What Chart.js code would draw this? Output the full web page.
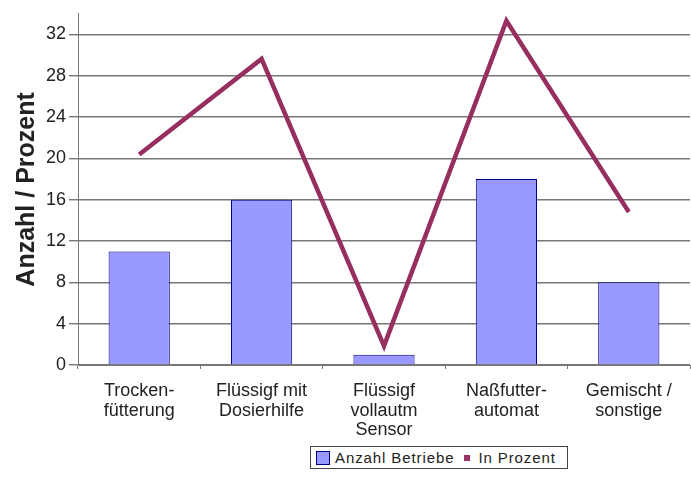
<!DOCTYPE html>
<html>
<head>
<meta charset="utf-8">
<script src="https://cdn.jsdelivr.net/npm/chart.js@4"></script>
<style>
  html, body { margin: 0; padding: 0; background: #fff; }
  #wrap { position: relative; width: 691px; height: 495px; }
  #legend {
    position: absolute; left: 310px; top: 446px; width: 256px; height: 21px;
    border: 1px solid #444; background: #fff;
    font-family: "Liberation Sans", Arial, sans-serif; font-size: 15px; letter-spacing: 0.9px; color: #222;
    display: flex; align-items: center; box-sizing: content-box; white-space: nowrap;
  }
  .sw1 { display: inline-block; width: 12px; height: 12px; background: #9999ff; border: 1px solid #000080; margin-left: 5px; margin-right: 5px; }
  .sw2 { display: inline-block; width: 6px; height: 6px; background: #993366; margin-left: 10px; margin-right: 8px; }
</style>
</head>
<body>
<div id="wrap">
  <canvas id="c" width="691" height="495"></canvas>
  <div id="legend"><span class="sw1"></span><span>Anzahl Betriebe</span><span class="sw2"></span><span>In Prozent</span></div>
</div>
<script>
const categories = [
  ['Trocken-', 'fütterung'],
  ['Flüssigf mit', 'Dosierhilfe'],
  ['Flüssigf', 'vollautm', 'Sensor'],
  ['Naßfutter-', 'automat'],
  ['Gemischt /', 'sonstige']
];
const anzahlBetriebe = [11, 16, 1, 18, 8];
const inProzent = [20.37, 29.63, 1.85, 33.33, 14.81];
const seriesNames = ['Anzahl Betriebe', 'In Prozent'];
const yAxisTitle = 'Anzahl / Prozent';

Chart.defaults.font.family = '"Liberation Sans", Arial, sans-serif';
Chart.defaults.color = '#222';

new Chart(document.getElementById('c'), {
  data: {
    labels: categories,
    datasets: [
      {
        type: 'line', label: seriesNames[1], data: inProzent,
        borderColor: '#962f5f', borderWidth: 4.5, pointRadius: 0, tension: 0, order: 0
      },
      {
        type: 'bar', label: seriesNames[0], data: anzahlBetriebe,
        backgroundColor: '#9999ff', borderColor: '#000080', borderWidth: 1,
        categoryPercentage: 1, barPercentage: 0.5, order: 1
      }
    ]
  },
  options: {
    responsive: false,
    animation: false,
    layout: { padding: { top: 0, right: 1, left: 0, bottom: 0 } },
    plugins: { legend: { display: false }, tooltip: { enabled: false } },
    scales: {
      x: {
        grid: { drawOnChartArea: false, tickLength: 4, color: '#777', offset: true },
        border: { color: '#777' },
        ticks: { font: { size: 18, lineHeight: 1.1 }, padding: 12, maxRotation: 0, autoSkip: false },
        afterFit: s => { s.height = 130; }
      },
      y: {
        min: 0, max: 34,
        grid: { color: '#777', lineWidth: 1.4, tickLength: 9 },
        border: { color: '#777' },
        ticks: {
          stepSize: 2, font: { size: 18 }, padding: 3,
          callback: v => (v % 4 === 0 ? String(v) : '')
        },
        title: { display: true, text: yAxisTitle, font: { size: 25, weight: 'bold' }, padding: { top: 12, bottom: 0 } },
        afterFit: s => { s.width = 78; }
      }
    }
  }
});
</script>
</body>
</html>
